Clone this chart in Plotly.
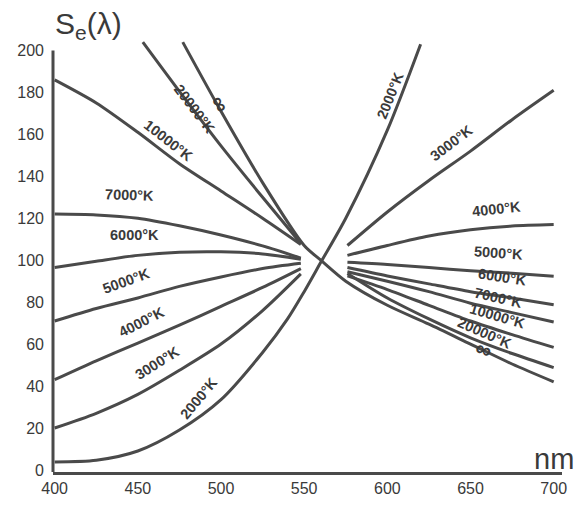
import plotly.graph_objects as go

# ---------------- data ----------------
# wavelength grids (nm)
wl_left = [400, 425, 450, 475, 500, 525, 548]
wl_right = [576, 600, 625, 650, 675, 700]

# 2000 K runs continuously through the normalisation point
s2000_wl = [400, 425, 450, 475, 500, 525, 540, 550, 560, 575, 600, 620]
s2000 = [3.8, 4.6, 9, 19, 33.5, 56, 72, 85, 99, 120, 162, 203]

s3000_left = [20, 27, 36, 47.5, 60, 76, 93.5]
s3000_right = [107, 123, 138, 152, 167, 181]

s4000_left = [43, 52, 60.5, 69, 78, 87, 96]
s4000_right = [102.3, 107, 111.5, 114.5, 116.3, 117]

s5000_left = [71, 77, 82, 87.5, 92, 96, 98.5]
s5000_right = [99, 98, 96.5, 95, 93.8, 92.3]

s6000_left = [96.5, 99.5, 102.3, 103.8, 104, 103, 100.5]
s6000_right = [96.5, 92.5, 88.7, 85, 82, 78.8]

s7000_left = [122, 121.6, 120, 116.4, 112, 106.8, 101]
s7000_right = [94.5, 90, 85, 79.5, 75, 70.5]

s10000_left = [186, 175, 161, 146, 133, 120, 107.5]
s10000_right = [92.5, 86, 78.5, 71, 64.5, 58.4]

s20000_wl_left = [453, 475, 500, 525, 548]
s20000_left = [204, 180.5, 154.5, 130, 108]
s20000_right = [93.7, 82, 72, 63, 55.5, 48.8]

# infinite temperature, continuous through the crossing
sinf_wl = [477, 500, 525, 550, 560, 575, 600, 625, 650, 675, 700]
sinf = [204, 171, 137, 107, 100, 90, 78.5, 69.5, 60, 50.5, 42]

x_ticks = [400, 450, 500, 550, 600, 650, 700]
y_ticks = [0, 20, 40, 60, 80, 100, 120, 140, 160, 180, 200]

# curve labels
label_text = ["20000°K", "∞", "10000°K", "7000°K", "6000°K", "5000°K", "4000°K",
              "3000°K", "2000°K", "2000°K", "3000°K", "4000°K", "5000°K",
              "6000°K", "7000°K", "10000°K", "20000°K", "∞"]
label_x = [484.1, 499.6, 468.7, 445.2, 447.8, 442.9, 452.2, 461.7, 486.7,
           601.6, 638.5, 665.4, 667.0, 669.0, 667.0, 666.0, 658.4, 658.0]
label_y = [172.1, 174.3, 157.0, 131.1, 112.0, 89.9, 70.6, 50.8, 34.4,
           178.3, 155.9, 124.6, 103.5, 92.2, 82.2, 73.4, 65.2, 57.5]
label_angle = [53, 58, 38, 2, 0, -20, -27, -32, -50,
               -68, -37, -6, 4, 9, 13, 16, 24, 20]

# ---------------- figure ----------------
LINE = "#4a4a4a"
TEXT = "#3a3a3a"
FONT = "Liberation Sans, Arial, sans-serif"

fig = go.Figure()


def add_curve(x, y):
    fig.add_trace(go.Scatter(
        x=x, y=y, mode="lines",
        line=dict(color=LINE, width=3, shape="spline", smoothing=0.8),
        showlegend=False, hoverinfo="skip"))


add_curve(s2000_wl, s2000)
for left, right in [(s3000_left, s3000_right), (s4000_left, s4000_right),
                    (s5000_left, s5000_right), (s6000_left, s6000_right),
                    (s7000_left, s7000_right), (s10000_left, s10000_right)]:
    add_curve(wl_left, left)
    add_curve(wl_right, right)
add_curve(s20000_wl_left, s20000_left)
add_curve(wl_right, s20000_right)
add_curve(sinf_wl, sinf)

for t, x, y, a in zip(label_text, label_x, label_y, label_angle):
    is_inf = t == "∞"
    fig.add_annotation(
        x=x, y=y, text=t, showarrow=False, textangle=a,
        font=dict(family=FONT, size=22 if is_inf else 14.5,
                  color=TEXT, weight="bold"))

# axis title texts
fig.add_annotation(xref="paper", yref="paper", x=0.0, y=1.034,
                   xanchor="left", yanchor="middle", showarrow=False,
                   text="S<sub>e</sub>(λ)",
                   font=dict(family=FONT, size=30, color=TEXT))
fig.add_annotation(xref="paper", yref="paper", x=1.027, y=0.031,
                   xanchor="right", yanchor="middle", showarrow=False,
                   text="nm", font=dict(family=FONT, size=29, color=TEXT))

# y axis line (stops at 200)
fig.add_shape(type="line", xref="paper", yref="y", x0=0, x1=0, y0=-1, y1=200,
              line=dict(color=LINE, width=3))

fig.update_layout(
    width=579, height=509,
    margin=dict(l=53, r=14, t=40, b=24),
    paper_bgcolor="white", plot_bgcolor="white",
    xaxis=dict(range=[399, 705], tickvals=x_ticks, showgrid=False,
               zeroline=False, showline=True, linecolor=LINE, linewidth=3,
               ticks="", tickfont=dict(family=FONT, size=16, color=TEXT)),
    yaxis=dict(range=[-1, 205], tickvals=y_ticks, showgrid=False,
               zeroline=False, showline=False, ticks="",
               ticklabelstandoff=8,
               tickfont=dict(family=FONT, size=16, color=TEXT)),
)

fig.write_html("out.html")
